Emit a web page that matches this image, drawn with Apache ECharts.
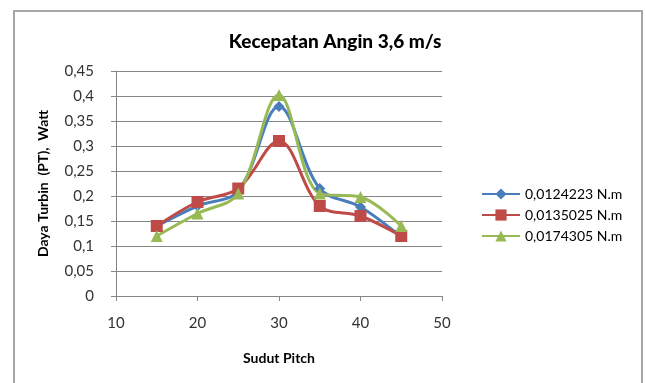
<!DOCTYPE html>
<html><head><meta charset="utf-8">
<script src="https://cdn.jsdelivr.net/npm/echarts@6/dist/echarts.min.js"></script>
<style>html,body{margin:0;padding:0;background:#fff}#c{width:646px;height:383px}</style>
</head><body><div id="c"></div>
<script>
const xValues = [15, 20, 25, 30, 35, 40, 45];
const seriesNames = ['0,0124223 N.m', '0,0135025 N.m', '0,0174305 N.m'];
const s1 = [0.14, 0.18, 0.21, 0.379, 0.215, 0.178, 0.118];
const s2 = [0.14, 0.188, 0.215, 0.31, 0.18, 0.16, 0.12];
const s3 = [0.12, 0.165, 0.205, 0.402, 0.205, 0.198, 0.14];
const colors = ['#4A7EBB', '#BE4B48', '#98B954'];
const symbols = ['diamond', 'rect', 'triangle'];
const sizes = [11, 12, 12];
const FONT = 'Lato';
const chart = echarts.init(document.getElementById('c'));
const fmt = v => String(v).replace('.', ',');
const all = [s1, s2, s3];
chart.setOption({
  animation: false,
  textStyle: {fontFamily: FONT},
  title: {text: 'Kecepatan Angin 3,6 m/s', left: 330, top: 27, textAlign: 'center',
    textStyle: {fontSize: 19, fontWeight: 900, color: '#000', fontFamily: FONT}},
  graphic: [{type: 'rect', shape: {x: 14, y: 11, width: 628, height: 400},
    style: {fill: 'none', stroke: '#a6a6a6', lineWidth: 2}, silent: true}],
  legend: {orient: 'vertical', left: 476, top: 182, itemGap: 7, itemWidth: 38, itemHeight: 14,
    textStyle: {fontSize: 14, color: '#000', fontFamily: FONT},
    data: seriesNames},
  grid: {left: 116, right: 204, top: 71, bottom: 87},
  xAxis: {type: 'value', min: 10, max: 50, interval: 10,
    name: 'Sudut Pitch', nameLocation: 'middle', nameGap: 55,
    nameTextStyle: {fontSize: 14, fontWeight: 'bold', color: '#000', fontFamily: FONT},
    axisLine: {lineStyle: {color: '#868686', width: 1}},
    axisTick: {show: true, inside: false, length: 5, lineStyle: {color: '#868686'}},
    axisLabel: {fontSize: 15, color: '#333', margin: 20, fontFamily: FONT},
    splitLine: {show: false}},
  yAxis: {type: 'value', min: 0, max: 0.45, interval: 0.05,
    name: 'Daya Turbin  (PT),  Watt', nameLocation: 'middle', nameGap: 66,
    nameTextStyle: {fontSize: 14, fontWeight: 'bold', color: '#000', fontFamily: FONT},
    axisLine: {show: true, lineStyle: {color: '#868686', width: 1}},
    axisTick: {show: true, inside: false, length: 5, lineStyle: {color: '#868686'}},
    axisLabel: {fontSize: 15, color: '#333', margin: 22, fontFamily: FONT,
      formatter: v => fmt(Math.round(v * 100) / 100)},
    splitLine: {show: true, lineStyle: {color: '#868686', width: 1}}},
  series: all.map((d, i) => ({
    name: seriesNames[i], type: 'line', smooth: 0.35,
    data: xValues.map((x, j) => [x, d[j]]),
    symbol: symbols[i], symbolSize: sizes[i],
    lineStyle: {color: colors[i], width: 3},
    itemStyle: {color: colors[i]}
  }))
});
</script></body></html>
